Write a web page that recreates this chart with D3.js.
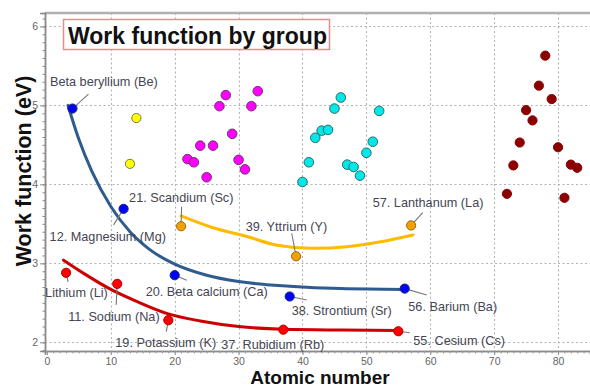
<!DOCTYPE html>
<html>
<head>
<meta charset="utf-8">
<script src="https://cdn.jsdelivr.net/npm/d3@7"></script>
<style>
  html, body { margin: 0; padding: 0; background: #fff; }
  svg { display: block; }
</style>
</head>
<body>
<div id="chart"></div>
<script>
// Work function (eV) against atomic number, grouped by element family.

// Alkali metals
const alkaliZ = [3, 11, 19, 37, 55];
const alkaliWF = [2.88, 2.74, 2.28, 2.16, 2.14];
const alkaliLabels = ["Lithium (Li)", "11. Sodium (Na)", "19. Potassium (K)", "37. Rubidium (Rb)", "55. Cesium (Cs)"];

// Alkaline earth metals
const earthZ = [4, 12, 20, 38, 56];
const earthWF = [4.96, 3.69, 2.85, 2.58, 2.68];
const earthLabels = ["Beta beryllium (Be)", "12. Magnesium (Mg)", "20. Beta calcium (Ca)", "38. Strontium (Sr)", "56. Barium (Ba)"];

// Group 3
const group3Z = [21, 39, 57];
const group3WF = [3.47, 3.09, 3.48];
const group3Labels = ["21. Scandium (Sc)", "39. Yttrium (Y)", "57. Lanthanum (La)"];

// Al, Si
const pBlockZ = [13, 14];
const pBlockWF = [4.26, 4.84];

// Period 4 (Ti .. As)
const period4Z = [22, 23, 24, 25, 26, 27, 28, 29, 30, 31, 32, 33];
const period4WF = [4.32, 4.28, 4.49, 4.09, 4.49, 4.99, 5.13, 4.64, 4.31, 4.19, 4.99, 5.18];

// Period 5 (Zr .. Te)
const period5Z = [40, 41, 42, 43, 44, 45, 46, 47, 48, 49, 50, 51, 52];
const period5WF = [4.03, 4.28, 4.59, 4.68, 4.69, 4.96, 5.10, 4.25, 4.22, 4.11, 4.40, 4.54, 4.93];

// Period 6 (Hf .. Bi)
const period6Z = [72, 73, 74, 75, 76, 77, 78, 79, 80, 81, 82, 83];
const period6WF = [3.88, 4.24, 4.53, 4.94, 4.81, 5.25, 5.63, 5.08, 4.47, 3.83, 4.25, 4.21];

// Trend curves [atomic number, work function]
const earthTrend = [[3.3, 5.00], [5, 4.57], [7, 4.17], [10, 3.72], [13, 3.40], [16, 3.18], [20, 2.99], [25, 2.85], [30, 2.77], [38, 2.71], [46, 2.68], [56, 2.67]];
const alkaliTrend = [[2.6, 3.04], [6, 2.86], [10, 2.67], [14, 2.52], [19, 2.36], [24, 2.27], [30, 2.20], [37, 2.165], [46, 2.155], [55.2, 2.15]];
const group3Trend = [[21, 3.60], [26, 3.45], [31.3, 3.34], [36, 3.23], [41.6, 3.19], [47, 3.21], [52, 3.27], [57.3, 3.36]];

// Axis ticks
const xTicks = [0, 10, 20, 30, 40, 50, 60, 70, 80];
const yTicks = [2, 3, 4, 5, 6];

const W = 590, H = 389;
const plot = { left: 45, top: 13, right: 590, bottom: 351 };

const svg = d3.select("#chart").append("svg")
  .attr("width", W).attr("height", H)
  .style("font-family", "'Liberation Sans', Arial, sans-serif");

const x = d3.scaleLinear().domain([-0.3, 85]).range([plot.left, plot.right]);
const y = d3.scaleLinear().domain([1.89, 6.17]).range([plot.bottom, plot.top]);

// Grid
const grid = svg.append("g").attr("stroke", "#b4b4b4").attr("stroke-width", 1.1).attr("stroke-dasharray", "2,2.5");
grid.selectAll("line.v").data(xTicks.filter(d => d > 0)).join("line")
  .attr("x1", d => Math.round(x(d)) + 0.5).attr("x2", d => Math.round(x(d)) + 0.5)
  .attr("y1", plot.top).attr("y2", plot.bottom);
grid.selectAll("line.h").data(yTicks).join("line")
  .attr("y1", d => Math.round(y(d)) + 0.5).attr("y2", d => Math.round(y(d)) + 0.5)
  .attr("x1", plot.left).attr("x2", plot.right);

// Top frame
svg.append("line").attr("x1", plot.left).attr("x2", plot.right)
  .attr("y1", plot.top).attr("y2", plot.top)
  .attr("stroke", "#b0b0b0").attr("stroke-width", 2.5);

// Axes
const xAxis = svg.append("g").attr("transform", `translate(0,${plot.bottom})`)
  .call(d3.axisBottom(x).tickValues(xTicks).tickSize(4).tickPadding(3).tickFormat(d3.format("d")));
const xMinor = svg.append("g").attr("transform", `translate(0,${plot.bottom})`)
  .call(d3.axisBottom(x).tickValues(d3.range(0, 86, 1)).tickSize(2.5).tickFormat(""));
const yAxis = svg.append("g").attr("transform", `translate(${plot.left},0)`)
  .call(d3.axisLeft(y).tickValues(yTicks).tickSize(5).tickPadding(2).tickFormat(d3.format("d")));
const yMinor = svg.append("g").attr("transform", `translate(${plot.left},0)`)
  .call(d3.axisLeft(y).tickValues(d3.range(19, 62, 1).map(d => d / 10)).tickSize(2.5).tickFormat(""));

[xAxis, xMinor, yAxis, yMinor].forEach(g => {
  g.selectAll(".domain").attr("stroke", "#8a8a8a").attr("stroke-width", 1.5);
  g.selectAll(".tick line").attr("stroke", "#8a8a8a");
  g.selectAll("text").attr("fill", "#666").style("font-size", "10.5px")
    .style("font-family", "'Liberation Sans', Arial, sans-serif");
});
xMinor.selectAll(".tick line").attr("stroke", "#9a9a9a");

// Trend curves
const line = d3.line().x(d => x(d[0])).y(d => y(d[1])).curve(d3.curveMonotoneX);
const curves = [
  { data: earthTrend, color: "#2f5b8f" },
  { data: alkaliTrend, color: "#cc0000" },
  { data: group3Trend, color: "#ffbb00" }
];
svg.append("g").selectAll("path").data(curves).join("path")
  .attr("d", d => line(d.data))
  .attr("fill", "none").attr("stroke", d => d.color)
  .attr("stroke-width", 3).attr("stroke-linecap", "round");

// Label layout: text start offset [dx, dy] and leader end [lx, ly], relative to the point
const labelLayout = {
  "Lithium (Li)": [-21, 20, 2, 9],
  "11. Sodium (Na)": [-49, 33, -1, 21],
  "19. Potassium (K)": [-53, 22, -2, 11.5],
  "37. Rubidium (Rb)": [-62, 14.6, 0, 0],
  "55. Cesium (Cs)": [15, 9, 11.5, 1.5],
  "Beta beryllium (Be)": [-22.5, -27, 16, -14.5],
  "12. Magnesium (Mg)": [-74, 28, -10, 16],
  "20. Beta calcium (Ca)": [-29, 16.6, 12, 5],
  "38. Strontium (Sr)": [2, 14, 17, 3.5],
  "56. Barium (Ba)": [3.6, 18, 22, 6.4],
  "21. Scandium (Sc)": [-52, -29, 0.5, -19.5],
  "39. Yttrium (Y)": [-50.4, -30, -4.4, -23],
  "57. Lanthanum (La)": [-38.4, -22.7, 11.6, -12.7]
};

const groups = [
  { z: pBlockZ, wf: pBlockWF, fill: "#ffff00", stroke: "#7a7a40", r: 4.6 },
  { z: period4Z, wf: period4WF, fill: "#ff00ff", stroke: "#6a3a6a", r: 4.8 },
  { z: period5Z, wf: period5WF, fill: "#00e8e8", stroke: "#2f6a6a", r: 4.8 },
  { z: period6Z, wf: period6WF, fill: "#8b0000", stroke: "#8b0000", r: 4.6 },
  { z: alkaliZ, wf: alkaliWF, fill: "#ff0000", stroke: "#b00000", r: 4.6, labels: alkaliLabels },
  { z: earthZ, wf: earthWF, fill: "#0000ff", stroke: "#1a2a70", r: 4.6, labels: earthLabels },
  { z: group3Z, wf: group3WF, fill: "#f5a000", stroke: "#9a6a10", r: 4.6, labels: group3Labels }
];

const leaders = svg.append("g").attr("stroke", "#777").attr("stroke-width", 1.1);
const dots = svg.append("g");
const texts = svg.append("g").attr("fill", "#454552").style("font-size", "12.7px");

groups.forEach(g => {
  const pts = g.z.map((z, i) => ({ z, wf: g.wf[i], label: g.labels ? g.labels[i] : null }));
  const labelled = pts.filter(p => p.label);
  leaders.selectAll(null).data(labelled.filter(p => labelLayout[p.label][2] || labelLayout[p.label][3])).join("line")
    .attr("x1", p => x(p.z)).attr("y1", p => y(p.wf))
    .attr("x2", p => x(p.z) + labelLayout[p.label][2])
    .attr("y2", p => y(p.wf) + labelLayout[p.label][3]);
  dots.selectAll(null).data(pts).join("circle")
    .attr("cx", p => x(p.z)).attr("cy", p => y(p.wf)).attr("r", g.r)
    .attr("fill", g.fill).attr("stroke", g.stroke).attr("stroke-width", 1);
  texts.selectAll(null).data(labelled).join("text")
    .attr("x", p => x(p.z) + labelLayout[p.label][0])
    .attr("y", p => y(p.wf) + labelLayout[p.label][1] + 4.5)
    .text(p => p.label);
});

// Title box
const title = svg.append("g");
title.append("rect").attr("x", 63.5).attr("y", 19.5).attr("width", 266).attr("height", 30)
  .attr("fill", "#fff").attr("stroke", "#f08a8a").attr("stroke-width", 1.5);
title.append("text").attr("x", 68).attr("y", 43.5)
  .style("font-size", "23px").style("font-weight", "bold").attr("fill", "#111")
  .text("Work function by group");

// Axis titles
svg.append("text").attr("x", 320).attr("y", 384).attr("text-anchor", "middle")
  .style("font-size", "19px").style("font-weight", "bold").attr("fill", "#111")
  .text("Atomic number");
svg.append("text").attr("transform", "translate(31,171) rotate(-90)").attr("text-anchor", "middle")
  .style("font-size", "21.5px").style("font-weight", "bold").attr("fill", "#111")
  .text("Work function (eV)");
</script>
</body>
</html>
